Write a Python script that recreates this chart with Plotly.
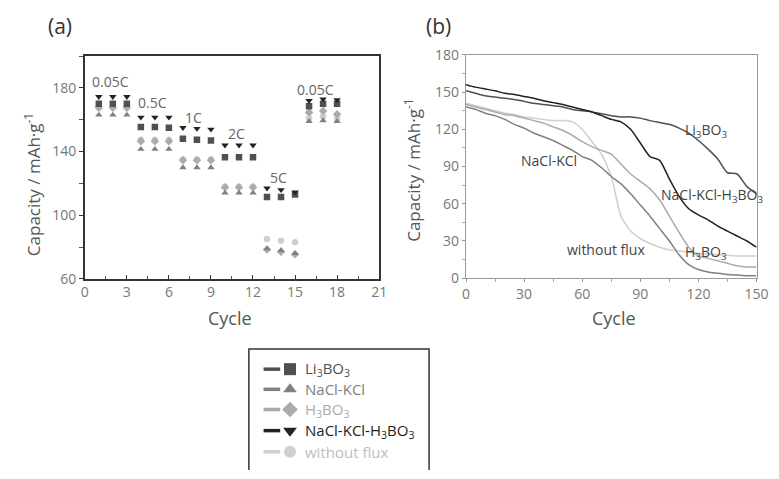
import plotly.graph_objects as go

# ---------------- Panel (a): rate capability ----------------
rate_cycles = list(range(1, 19))
rate_li3bo3 = [170, 170, 170, 155.5, 155.5, 155, 148, 147.5, 147, 136.5, 136.5, 136.5, 111.5, 111.5, 113, 168.5, 170, 170]
rate_nacl_kcl = [163, 163, 163, 141.5, 141.5, 141.5, 130, 130, 130, 114, 114, 114, 79, 78, 76, 159, 159.5, 159]
rate_h3bo3 = [167.5, 167.5, 167.5, 146.5, 146.5, 146.5, 134.5, 134.5, 134.5, 117.5, 117.5, 117.5, 78.5, 77, 75.5, 164.5, 165.5, 163.5]
rate_mixed = [174.5, 174.5, 174.5, 161.5, 161.5, 161.5, 155, 154.5, 154, 144, 144, 144, 117, 116, 114.5, 172, 173, 172.5]
rate_noflux = [168.5, 168.5, 168.5, 147.5, 147.5, 147.5, 135, 135, 135, 118, 118, 118, 85, 84, 83, 161, 162, 161]

rate_labels = ["0.05C", "0.5C", "1C", "2C", "5C", "0.05C"]
rate_label_x = [1.8, 4.8, 7.75, 10.85, 13.8, 16.45]
rate_label_y = [184, 171, 161.5, 151.5, 124, 179]

# ---------------- Panel (b): cycling ----------------
cyc = list(range(0, 151, 5))
cyc_li3bo3 = [151, 149, 147, 146, 145, 144, 142.5, 141, 140, 139, 138, 136, 135, 134, 132.5, 131, 130, 130, 129, 127, 125.5, 124, 121, 117, 111, 104, 96, 85, 84, 74, 68]
cyc_nacl_kcl = [138, 136, 133, 131, 128, 124, 121, 117, 114, 111, 107, 103, 98, 95, 89, 82, 76, 68, 59, 50, 40, 30, 19, 11, 7, 5, 4, 3, 2.5, 2, 2]
cyc_h3bo3 = [140, 138, 136, 134, 132, 131, 129, 127, 125, 122, 119, 115, 110, 106, 103, 100, 92, 84, 78, 72, 63, 50, 37, 25, 18, 16, 14, 12, 10, 9, 9]
cyc_mixed = [156, 154, 152.5, 151, 149, 148, 146.5, 145, 143, 141.5, 140, 138, 136, 134, 131, 128, 126, 120, 109, 98, 95, 80, 66, 56, 51, 47, 42, 38, 34, 30, 25]
cyc_noflux = [141, 139, 137, 135, 133, 132, 130, 129, 128, 127, 127, 126, 120, 110, 100, 82, 50, 38, 32, 28, 25, 23, 22, 21, 20, 19.5, 19, 18.5, 18, 18, 18]

series_names = ["Li<sub>3</sub>BO<sub>3</sub>", "NaCl-KCl", "H<sub>3</sub>BO<sub>3</sub>",
                "NaCl-KCl-H<sub>3</sub>BO<sub>3</sub>", "without flux"]
series_colors = ["#505050", "#808080", "#ababab", "#222222", "#cfcfcf"]
series_symbols = ["square", "triangle-up", "diamond", "triangle-down", "circle"]

b_labels = ["Li<sub>3</sub>BO<sub>3</sub>", "NaCl-KCl", "NaCl-KCl-H<sub>3</sub>BO<sub>3</sub>",
            "without flux", "H<sub>3</sub>BO<sub>3</sub>"]
b_label_x = [124, 43, 127, 72.5, 124]
b_label_y = [119, 95, 67, 23, 21]

FONT = "Open Sans"
fig = go.Figure()

rate_data = [rate_li3bo3, rate_nacl_kcl, rate_h3bo3, rate_mixed, rate_noflux]
draw_order = [4, 2, 1, 0, 3]
for i in draw_order:
    fig.add_trace(go.Scatter(x=rate_cycles, y=rate_data[i], mode="markers",
                             marker=dict(symbol=series_symbols[i], size=6.5, color=series_colors[i]),
                             xaxis="x", yaxis="y", showlegend=False))

cyc_data = [cyc_li3bo3, cyc_nacl_kcl, cyc_h3bo3, cyc_mixed, cyc_noflux]
for i in [4, 2, 1, 0, 3]:
    fig.add_trace(go.Scatter(x=cyc, y=cyc_data[i], mode="lines",
                             line=dict(color=series_colors[i], width=1.5, shape="spline", smoothing=0.6),
                             xaxis="x2", yaxis="y2", showlegend=False))

# ---- manual legend (overlay axis in pixel units) ----
leg_y = [374, 395, 416, 438, 460]
for i in range(5):
    fig.add_trace(go.Scatter(x=[265, 282], y=[leg_y[i], leg_y[i]], mode="lines",
                             line=dict(color=series_colors[i], width=3.5),
                             xaxis="x3", yaxis="y3", showlegend=False, hoverinfo="skip"))
    fig.add_trace(go.Scatter(x=[292], y=[leg_y[i]], mode="markers",
                             marker=dict(symbol=series_symbols[i], size=12, color=series_colors[i]),
                             xaxis="x3", yaxis="y3", showlegend=False, hoverinfo="skip"))

annotations = []
for i in range(5):
    annotations.append(dict(x=305, y=leg_y[i], xref="x3", yref="y3", text=series_names[i],
                            showarrow=False, xanchor="left", yanchor="middle",
                            font=dict(family=FONT, size=15, color=series_colors[i] if i != 4 else "#bdbdbd")))

for t, xx, yy in zip(rate_labels, rate_label_x, rate_label_y):
    annotations.append(dict(x=xx, y=yy, xref="x", yref="y", text=t, showarrow=False,
                            font=dict(family=FONT, size=14, color="#666666")))
for t, xx, yy in zip(b_labels, b_label_x, b_label_y):
    annotations.append(dict(x=xx, y=yy, xref="x2", yref="y2", text=t, showarrow=False,
                            font=dict(family=FONT, size=14, color="#444444")))

# panel letters and axis titles
annotations += [
    dict(x=57, y=17, xref="x3", yref="y3", text="(a)", showarrow=False,
         font=dict(family=FONT, size=21, color="#333333")),
    dict(x=444, y=17, xref="x3", yref="y3", text="(b)", showarrow=False,
         font=dict(family=FONT, size=21, color="#333333")),
    dict(x=29, y=182, xref="x3", yref="y3", text="Capacity / mAh·g<sup>-1</sup>", textangle=-90,
         showarrow=False, font=dict(family=FONT, size=17, color="#555555")),
    dict(x=417, y=167, xref="x3", yref="y3", text="Capacity / mAh·g<sup>-1</sup>", textangle=-90,
         showarrow=False, font=dict(family=FONT, size=17, color="#555555")),
    dict(x=231, y=321, xref="x3", yref="y3", text="Cycle", showarrow=False,
         font=dict(family=FONT, size=18, color="#555555")),
    dict(x=623, y=321, xref="x3", yref="y3", text="Cycle", showarrow=False,
         font=dict(family=FONT, size=18, color="#555555")),
]

W, H = 779, 479
def px(x):
    return x / W
def py(y):
    return 1 - y / H

tickfont = dict(family=FONT, size=14, color="#777777")

fig.update_layout(
    width=W, height=H, autosize=False,
    margin=dict(l=0, r=0, t=0, b=0),
    paper_bgcolor="white", plot_bgcolor="rgba(0,0,0,0)",
    showlegend=False,
    annotations=annotations,
    shapes=[dict(type="rect", xref="x3", yref="y3", x0=250, x1=434, y0=353, y1=495,
                 line=dict(color="#333333", width=1.5), layer="below")],
    xaxis=dict(domain=[px(82.5), px(383)], range=[0, 21], tickvals=[0, 3, 6, 9, 12, 15, 18, 21],
               showline=True, linecolor="#333333", linewidth=1.5, mirror=True,
               ticks="inside", ticklen=4, tickcolor="#333333",
               minor=dict(dtick=1.5, ticks="inside", ticklen=3, tickcolor="#555555"),
               showgrid=False, zeroline=False, tickfont=tickfont, anchor="y"),
    yaxis=dict(domain=[py(280), py(48)], range=[60, 200], tickvals=[60, 100, 140, 180],
               showline=True, linecolor="#333333", linewidth=1.5, mirror=True,
               ticks="outside", ticklen=4, tickcolor="#333333",
               minor=dict(tickvals=[80, 120, 160, 200], ticks="outside", ticklen=4, tickcolor="#555555"),
               showgrid=False, zeroline=False, tickfont=tickfont, anchor="x"),
    xaxis2=dict(domain=[px(471.7), px(768.3)], range=[0, 150], tickvals=[0, 30, 60, 90, 120, 150],
                showline=True, linecolor="#999999", linewidth=1.2, mirror=True,
                ticks="outside", ticklen=3, tickcolor="#999999",
                minor=dict(dtick=15, ticks="outside", ticklen=3, tickcolor="#aaaaaa"),
                showgrid=False, zeroline=False, tickfont=tickfont, anchor="y2"),
    yaxis2=dict(domain=[py(279.3), py(46.7)], range=[0, 180], tickvals=[0, 30, 60, 90, 120, 150, 180],
                showline=True, linecolor="#999999", linewidth=1.2, mirror=True,
                ticks="outside", ticklen=3, tickcolor="#999999",
                minor=dict(dtick=15, ticks="outside", ticklen=3, tickcolor="#aaaaaa"),
                showgrid=False, zeroline=False, tickfont=tickfont, anchor="x2"),
    xaxis3=dict(domain=[0, 1], range=[0, W], visible=False, fixedrange=True, anchor="y3"),
    yaxis3=dict(domain=[0, 1], range=[H, 0], visible=False, fixedrange=True, anchor="x3"),
)

fig.write_html("out.html")
